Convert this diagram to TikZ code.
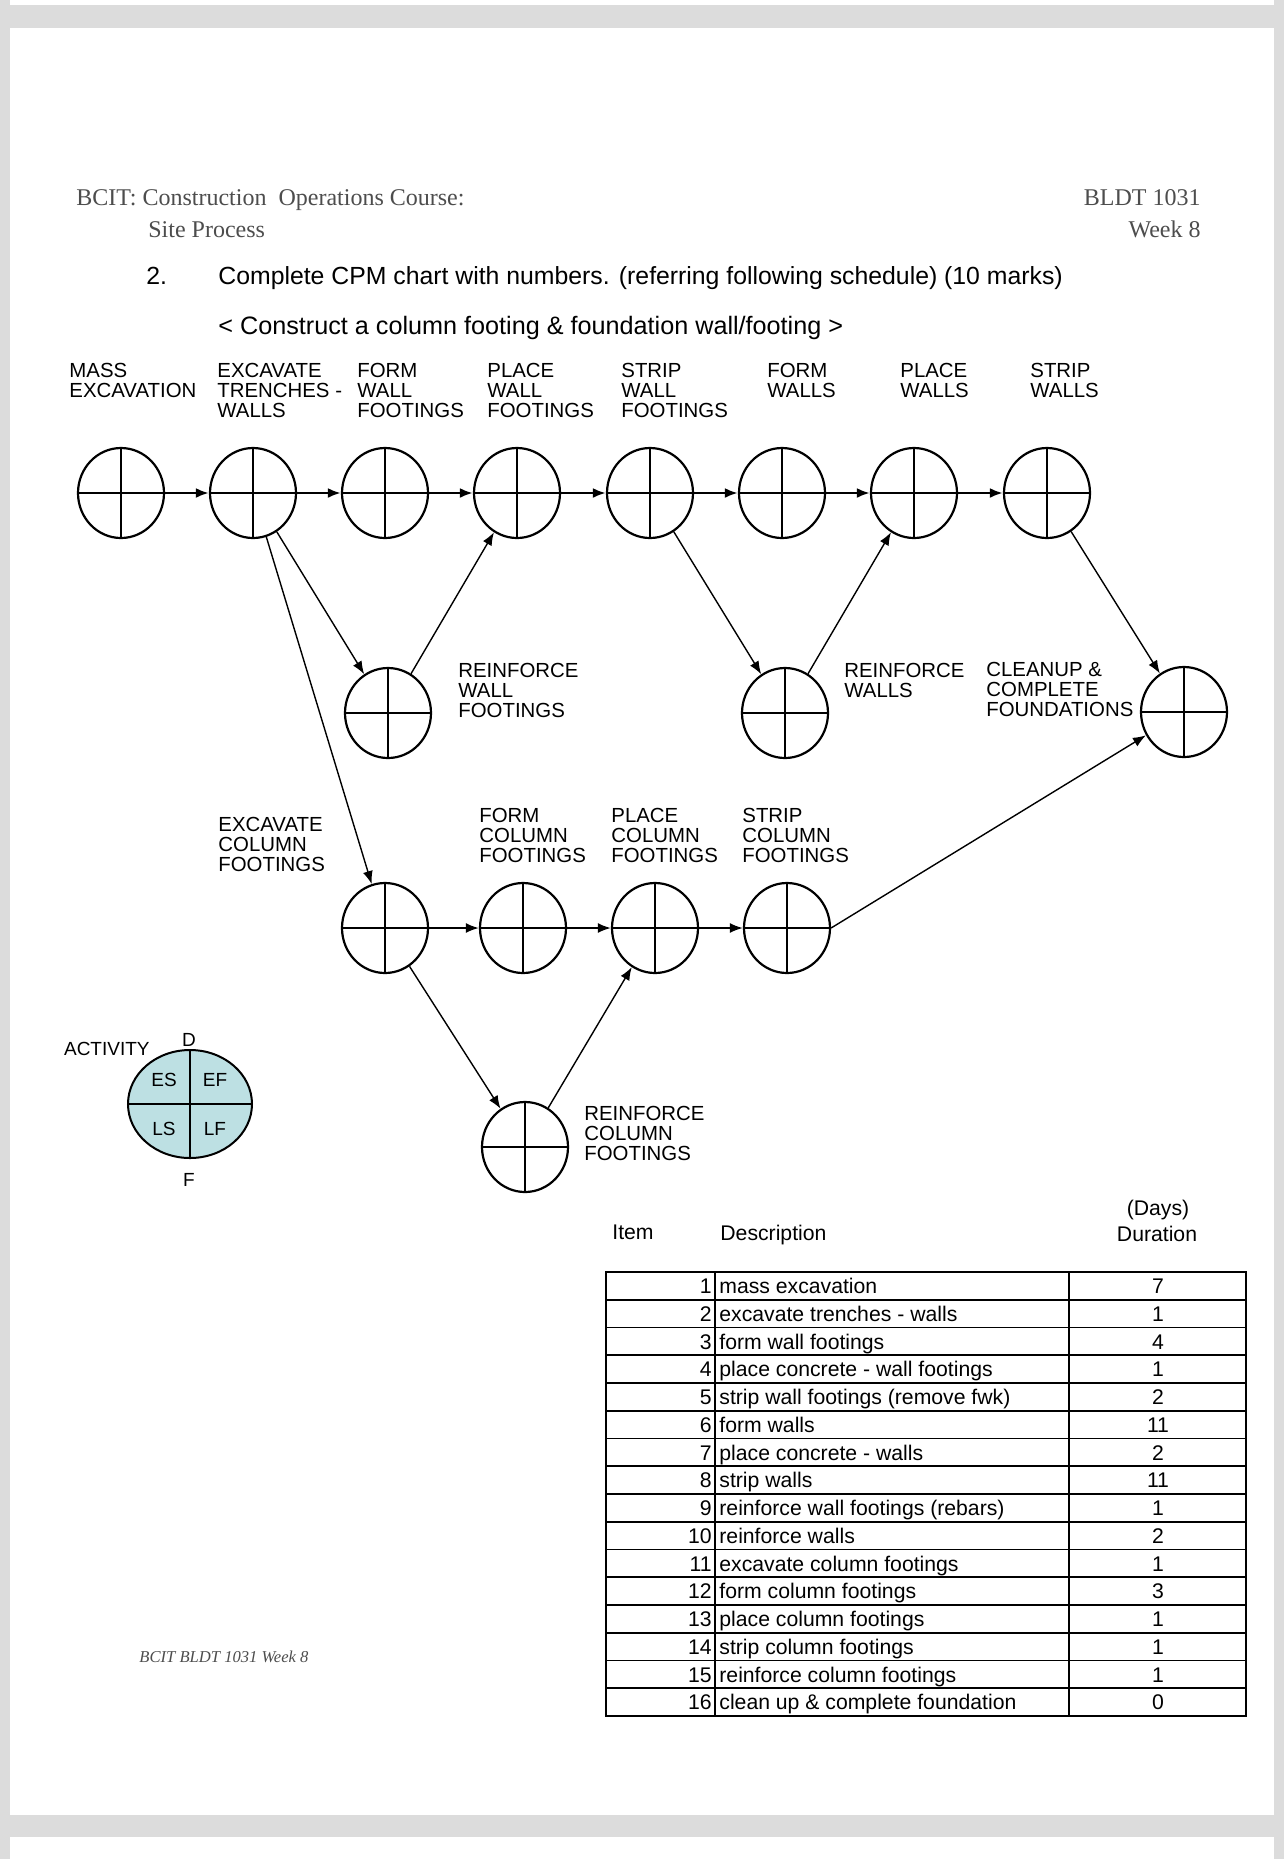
\documentclass[tikz,border=0pt]{standalone}
\usepackage{xcolor}
\usepackage{fontspec}
\setmainfont{Liberation Sans}
\newfontfamily\timesfont{Liberation Serif}
\usepackage{tikz}
\usetikzlibrary{shapes.geometric,arrows.meta}

\definecolor{pagegray}{HTML}{DCDCDC}
\definecolor{legendblue}{HTML}{BDE0E3}
\definecolor{headgray}{HTML}{4D4D4D}

\begin{document}
\begin{tikzpicture}[x=0.5pt,y=-0.5pt,
  >={Latex[length=6.5pt,width=5pt]},
  evt/.style={draw, ellipse, line width=1.1pt, minimum width=43pt,
    minimum height=45pt, inner sep=0pt,
    path picture={\draw[line width=1pt]
      (path picture bounding box.north) -- (path picture bounding box.south)
      (path picture bounding box.west) -- (path picture bounding box.east);}},
  lbl/.style={anchor=north west, align=left, inner sep=0pt,
    font=\fontsize{10.2}{10}\selectfont},
  hdr/.style={anchor=base west, inner sep=0pt, text=headgray,
    font=\timesfont\fontsize{12}{14}\selectfont},
  cell/.style={inner sep=0pt, font=\fontsize{10.6}{12}\selectfont},
  key/.style={inner sep=0pt, font=\fontsize{9.5}{10}\selectfont}]

\useasboundingbox (0,0) rectangle (1284,1859);

% Hoja
\fill[pagegray] (0,0) rectangle (1284,1859);
\fill[white] (10,0) rectangle (1274,5);
\fill[white] (10,28) rectangle (1274,1815);
\fill[white] (10,1837) rectangle (1274,1859);

% Encabezado
\node[hdr] (course) at (76,205) {BCIT: Construction\ \ Operations Course:};
\node[hdr] (site) at (148,237) {Site Process};
\node[hdr, anchor=base east] (code) at (1201,205) {BLDT 1031};
\node[hdr, anchor=base east] (week) at (1201,237) {Week 8};

\node[anchor=base west, inner sep=0pt, font=\fontsize{12.4}{14}\selectfont]
  (qnum) at (146,284) {2.};
\node[anchor=base west, inner sep=0pt, font=\fontsize{12.4}{14}\selectfont]
  (qtext) at (218,284) {Complete CPM chart with numbers. (referring following schedule) (10 marks)};
\node[anchor=base west, inner sep=0pt, font=\fontsize{12.6}{14}\selectfont]
  (qsub) at (218,334) {< Construct a column footing \& foundation wall/footing >};

% Actividades de muros
\node[lbl] (lm1) at (69,363) {MASS\\EXCAVATION};
\node[lbl] (lm2) at (217,363) {EXCAVATE\\TRENCHES -\\WALLS};
\node[lbl] (lm3) at (357,363) {FORM\\WALL\\FOOTINGS};
\node[lbl] (lm4) at (487,363) {PLACE\\WALL\\FOOTINGS};
\node[lbl] (lm5) at (621,363) {STRIP\\WALL\\FOOTINGS};
\node[lbl] (lm6) at (767,363) {FORM\\WALLS};
\node[lbl] (lm7) at (900,363) {PLACE\\WALLS};
\node[lbl] (lm8) at (1030,363) {STRIP\\WALLS};

\node[evt] (m1) at (121,493) {};
\node[evt] (m2) at (253,493) {};
\node[evt] (m3) at (385,493) {};
\node[evt] (m4) at (517,493) {};
\node[evt] (m5) at (650,493) {};
\node[evt] (m6) at (782,493) {};
\node[evt] (m7) at (914,493) {};
\node[evt] (m8) at (1047,493) {};

\draw[->, line width=1.3pt] (m1) -- (m2);
\draw[->, line width=1.3pt] (m2) -- (m3);
\draw[->, line width=1.3pt] (m3) -- (m4);
\draw[->, line width=1.3pt] (m4) -- (m5);
\draw[->, line width=1.3pt] (m5) -- (m6);
\draw[->, line width=1.3pt] (m6) -- (m7);
\draw[->, line width=1.3pt] (m7) -- (m8);

% Refuerzos y final
\node[evt] (rwf) at (388,713) {};
\node[lbl] (lrwf) at (458,663) {REINFORCE\\WALL\\FOOTINGS};
\node[evt] (rw) at (785,713) {};
\node[lbl] (lrw) at (844,663) {REINFORCE\\WALLS};
\node[evt] (fin) at (1184,712) {};
\node[lbl] (lfin) at (986,662) {CLEANUP \&\\COMPLETE\\FOUNDATIONS};

\draw[->, line width=0.7pt] (m2) -- (rwf);
\draw[->, line width=0.7pt] (rwf) -- (m4);
\draw[->, line width=0.7pt] (m5) -- (rw);
\draw[->, line width=0.7pt] (rw) -- (m7);
\draw[->, line width=0.7pt] (m8) -- (fin);

% Actividades de columnas
\node[lbl] (lc1) at (218,817) {EXCAVATE\\COLUMN\\FOOTINGS};
\node[lbl] (lc2) at (479,808) {FORM\\COLUMN\\FOOTINGS};
\node[lbl] (lc3) at (611,808) {PLACE\\COLUMN\\FOOTINGS};
\node[lbl] (lc4) at (742,808) {STRIP\\COLUMN\\FOOTINGS};

\node[evt] (c1) at (385,928) {};
\node[evt] (c2) at (523,928) {};
\node[evt] (c3) at (655,928) {};
\node[evt] (c4) at (787,928) {};
\node[evt] (rcf) at (525,1147) {};
\node[lbl] (lrcf) at (584,1106) {REINFORCE\\COLUMN\\FOOTINGS};

\draw[->, line width=0.9pt] (c1) -- (c2);
\draw[->, line width=0.9pt] (c2) -- (c3);
\draw[->, line width=0.9pt] (c3) -- (c4);
\draw[->, line width=0.7pt] (m2) -- (c1);
\draw[->, line width=0.7pt] (c1) -- (rcf);
\draw[->, line width=0.7pt] (rcf) -- (c3);
\draw[->, line width=0.7pt] (c4.east) -- (fin);

% Leyenda
\node[draw, ellipse, fill=legendblue, line width=1pt, minimum width=62pt,
  minimum height=54pt, inner sep=0pt] (leg) at (190,1104) {};
\draw[line width=1pt] (leg.north) -- (leg.south) (leg.west) -- (leg.east);
\node[key, anchor=base east] (lact) at (150,1055) {ACTIVITY};
\node[key, anchor=base] (ld) at (189,1046) {D};
\node[key, anchor=base] (lf) at (189,1186) {F};
\node[key] (les) at (164,1080) {ES};
\node[key] (lef) at (215,1080) {EF};
\node[key] (lls) at (164,1129) {LS};
\node[key] (llf) at (215,1129) {LF};

% Tabla
\node[cell, anchor=base west] (hitem) at (612,1239) {Item};
\node[cell, anchor=base west] (hdesc) at (720,1240) {Description};
\node[cell, anchor=base] (hdays) at (1158,1215) {(Days)};
\node[cell, anchor=base] (hdur) at (1157,1241) {Duration};

\draw[line width=0.9pt] (606,1272) rectangle (1246,1716);
\draw[line width=0.9pt] (715,1272) -- (715,1716) (1069,1272) -- (1069,1716);
\draw[line width=0.9pt]
  (606,1299.75) -- (1246,1299.75) (606,1327.5) -- (1246,1327.5)
  (606,1355.25) -- (1246,1355.25) (606,1383) -- (1246,1383)
  (606,1410.75) -- (1246,1410.75) (606,1438.5) -- (1246,1438.5)
  (606,1466.25) -- (1246,1466.25) (606,1494) -- (1246,1494)
  (606,1521.75) -- (1246,1521.75) (606,1549.5) -- (1246,1549.5)
  (606,1577.25) -- (1246,1577.25) (606,1605) -- (1246,1605)
  (606,1632.75) -- (1246,1632.75) (606,1660.5) -- (1246,1660.5)
  (606,1688.25) -- (1246,1688.25);

\node[cell, anchor=base east] (n1) at (712,1293.5) {1};
\node[cell, anchor=base west] (d1) at (719,1293.5) {mass excavation};
\node[cell, anchor=base] (t1) at (1158,1293.5) {7};
\node[cell, anchor=base east] (n2) at (712,1321.25) {2};
\node[cell, anchor=base west] (d2) at (719,1321.25) {excavate trenches - walls};
\node[cell, anchor=base] (t2) at (1158,1321.25) {1};
\node[cell, anchor=base east] (n3) at (712,1349) {3};
\node[cell, anchor=base west] (d3) at (719,1349) {form wall footings};
\node[cell, anchor=base] (t3) at (1158,1349) {4};
\node[cell, anchor=base east] (n4) at (712,1376.75) {4};
\node[cell, anchor=base west] (d4) at (719,1376.75) {place concrete - wall footings};
\node[cell, anchor=base] (t4) at (1158,1376.75) {1};
\node[cell, anchor=base east] (n5) at (712,1404.5) {5};
\node[cell, anchor=base west] (d5) at (719,1404.5) {strip wall footings (remove fwk)};
\node[cell, anchor=base] (t5) at (1158,1404.5) {2};
\node[cell, anchor=base east] (n6) at (712,1432.25) {6};
\node[cell, anchor=base west] (d6) at (719,1432.25) {form walls};
\node[cell, anchor=base] (t6) at (1158,1432.25) {11};
\node[cell, anchor=base east] (n7) at (712,1460) {7};
\node[cell, anchor=base west] (d7) at (719,1460) {place concrete - walls};
\node[cell, anchor=base] (t7) at (1158,1460) {2};
\node[cell, anchor=base east] (n8) at (712,1487.75) {8};
\node[cell, anchor=base west] (d8) at (719,1487.75) {strip walls};
\node[cell, anchor=base] (t8) at (1158,1487.75) {11};
\node[cell, anchor=base east] (n9) at (712,1515.5) {9};
\node[cell, anchor=base west] (d9) at (719,1515.5) {reinforce wall footings (rebars)};
\node[cell, anchor=base] (t9) at (1158,1515.5) {1};
\node[cell, anchor=base east] (n10) at (712,1543.25) {10};
\node[cell, anchor=base west] (d10) at (719,1543.25) {reinforce walls};
\node[cell, anchor=base] (t10) at (1158,1543.25) {2};
\node[cell, anchor=base east] (n11) at (712,1571) {11};
\node[cell, anchor=base west] (d11) at (719,1571) {excavate column footings};
\node[cell, anchor=base] (t11) at (1158,1571) {1};
\node[cell, anchor=base east] (n12) at (712,1598.75) {12};
\node[cell, anchor=base west] (d12) at (719,1598.75) {form column footings};
\node[cell, anchor=base] (t12) at (1158,1598.75) {3};
\node[cell, anchor=base east] (n13) at (712,1626.5) {13};
\node[cell, anchor=base west] (d13) at (719,1626.5) {place column footings};
\node[cell, anchor=base] (t13) at (1158,1626.5) {1};
\node[cell, anchor=base east] (n14) at (712,1654.25) {14};
\node[cell, anchor=base west] (d14) at (719,1654.25) {strip column footings};
\node[cell, anchor=base] (t14) at (1158,1654.25) {1};
\node[cell, anchor=base east] (n15) at (712,1682) {15};
\node[cell, anchor=base west] (d15) at (719,1682) {reinforce column footings};
\node[cell, anchor=base] (t15) at (1158,1682) {1};
\node[cell, anchor=base east] (n16) at (712,1709.75) {16};
\node[cell, anchor=base west] (d16) at (719,1709.75) {clean up \& complete foundation};
\node[cell, anchor=base] (t16) at (1158,1709.75) {0};

% Pie
\node[anchor=base west, inner sep=0pt, text=headgray,
  font=\timesfont\itshape\fontsize{8.3}{10}\selectfont] (foot) at (139,1662) {BCIT BLDT 1031 Week 8};

\end{tikzpicture}
\end{document}
